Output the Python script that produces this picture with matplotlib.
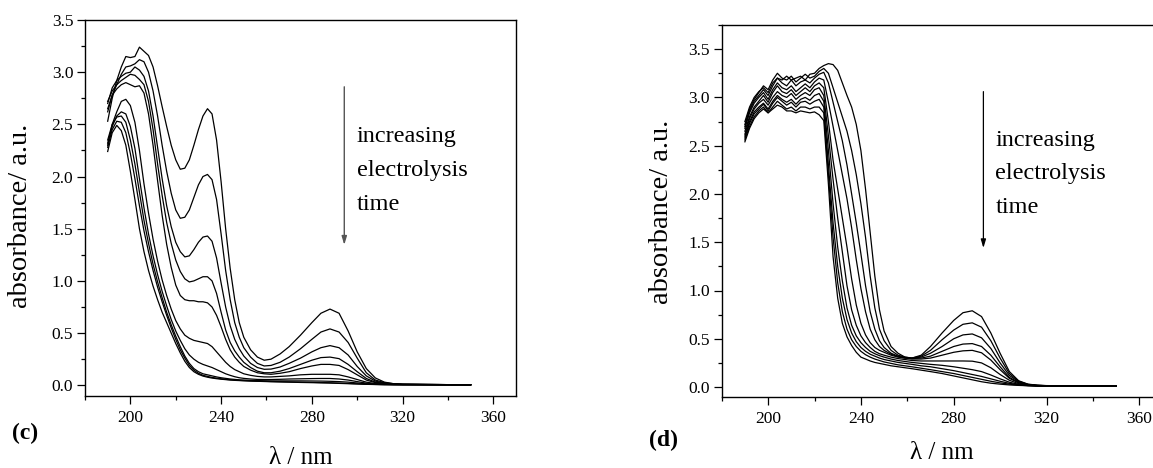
import matplotlib
matplotlib.use("Agg")
from matplotlib import pyplot as plt
from matplotlib.ticker import MultipleLocator

plt.rcParams['font.family'] = ['Liberation Serif', 'DejaVu Serif']

# wavelength grid (nm), shared by all spectra
wl = [190, 192, 194, 196, 198, 200, 202, 204, 206, 208, 210, 212, 214, 216, 218, 220,
      222, 224, 226, 228, 230, 232, 234, 236, 238, 240, 242, 244, 246, 248, 250, 253,
      256, 259, 262, 266, 270, 275, 280, 284, 288, 292, 296, 300, 304, 308, 312, 316,
      320, 330, 340, 350]

# panel (c): absorbance, first to last electrolysis time
spec_c = [
    [2.53, 2.75, 2.92, 3.05, 3.15, 3.14, 3.15, 3.24, 3.2, 3.16, 3.05, 2.87, 2.67, 2.48, 2.3, 2.16,
     2.07, 2.08, 2.16, 2.3, 2.45, 2.58, 2.65, 2.6, 2.35, 1.95, 1.5, 1.12, 0.82, 0.6, 0.46, 0.34,
     0.27, 0.24, 0.25, 0.3, 0.37, 0.48, 0.6, 0.69, 0.73, 0.69, 0.52, 0.32, 0.16, 0.07, 0.03, 0.015,
     0.01, 0.008, 0.006, 0.005],
    [2.62, 2.78, 2.88, 2.98, 3.05, 3.06, 3.08, 3.12, 3.1, 3.0, 2.82, 2.58, 2.3, 2.05, 1.84, 1.68,
     1.6, 1.61, 1.68, 1.8, 1.92, 2.0, 2.02, 1.97, 1.78, 1.45, 1.1, 0.82, 0.6, 0.46, 0.36, 0.27,
     0.21, 0.185, 0.19, 0.22, 0.27, 0.35, 0.44, 0.51, 0.54, 0.51, 0.41, 0.26, 0.12, 0.05, 0.025, 0.015,
     0.01, 0.008, 0.006, 0.005],
    [2.7, 2.85, 2.92, 2.96, 2.99, 3.0, 3.05, 3.02, 2.96, 2.82, 2.58, 2.28, 1.98, 1.72, 1.52, 1.37,
     1.28, 1.23, 1.24, 1.3, 1.37, 1.42, 1.43, 1.38, 1.22, 0.98, 0.75, 0.57, 0.44, 0.35, 0.28, 0.21,
     0.17, 0.153, 0.155, 0.175, 0.21, 0.26, 0.32, 0.36, 0.38, 0.36, 0.29, 0.18, 0.09, 0.04, 0.02, 0.012,
     0.009, 0.007, 0.006, 0.005],
    [2.72, 2.82, 2.88, 2.92, 2.95, 2.98, 2.97, 2.93, 2.88, 2.72, 2.45, 2.12, 1.82, 1.56, 1.36, 1.2,
     1.09, 1.02, 0.99, 1.0, 1.02, 1.04, 1.04, 1.0, 0.88, 0.7, 0.53, 0.41, 0.33, 0.27, 0.22, 0.17,
     0.135, 0.12, 0.12, 0.135, 0.16, 0.2, 0.24, 0.265, 0.27, 0.255, 0.2, 0.13, 0.065, 0.03, 0.017, 0.011,
     0.008, 0.007, 0.006, 0.005],
    [2.65, 2.78, 2.84, 2.88, 2.9, 2.88, 2.86, 2.87, 2.8, 2.6, 2.3, 1.96, 1.63, 1.35, 1.13, 0.96,
     0.86, 0.82, 0.81, 0.81, 0.8, 0.8, 0.79, 0.75, 0.67, 0.56, 0.44, 0.34, 0.27, 0.22, 0.18, 0.145,
     0.12, 0.11, 0.105, 0.115, 0.13, 0.16, 0.185, 0.2, 0.2, 0.19, 0.15, 0.1, 0.05, 0.025, 0.014, 0.01,
     0.008, 0.007, 0.006, 0.005],
    [2.3, 2.5, 2.62, 2.72, 2.74, 2.68, 2.52, 2.25, 1.93, 1.65, 1.4, 1.19, 1.01, 0.86, 0.73, 0.62,
     0.54, 0.48, 0.45, 0.43, 0.42, 0.41, 0.4, 0.37, 0.32, 0.27, 0.22, 0.18, 0.15, 0.13, 0.11, 0.095,
     0.085, 0.08, 0.08, 0.085, 0.09, 0.1, 0.105, 0.105, 0.105, 0.1, 0.08, 0.055, 0.03, 0.016, 0.01, 0.008,
     0.007, 0.006, 0.005, 0.005],
    [2.32, 2.48, 2.58, 2.62, 2.6, 2.48, 2.27, 1.98, 1.7, 1.45, 1.24, 1.06, 0.9, 0.76, 0.63, 0.52,
     0.43, 0.35, 0.29, 0.25, 0.22, 0.2, 0.185, 0.17, 0.15, 0.13, 0.11, 0.095, 0.082, 0.072, 0.066, 0.06,
     0.056, 0.055, 0.055, 0.057, 0.06, 0.062, 0.064, 0.065, 0.065, 0.06, 0.05, 0.035, 0.02, 0.012, 0.009, 0.007,
     0.006, 0.006, 0.005, 0.005],
    [2.35, 2.5, 2.57, 2.58, 2.52, 2.35, 2.12, 1.85, 1.58, 1.36, 1.16, 0.99, 0.84, 0.7, 0.58, 0.47,
     0.37, 0.28, 0.21, 0.16, 0.13, 0.11, 0.1, 0.09, 0.08, 0.072, 0.066, 0.06, 0.056, 0.052, 0.05, 0.047,
     0.045, 0.043, 0.042, 0.042, 0.042, 0.042, 0.041, 0.04, 0.038, 0.035, 0.03, 0.022, 0.014, 0.009, 0.007, 0.006,
     0.006, 0.005, 0.005, 0.005],
    [2.28, 2.45, 2.53, 2.52, 2.42, 2.22, 1.98, 1.72, 1.48, 1.28, 1.1, 0.94, 0.8, 0.67, 0.55, 0.44,
     0.34, 0.26, 0.19, 0.145, 0.115, 0.095, 0.085, 0.075, 0.068, 0.062, 0.057, 0.053, 0.05, 0.047, 0.045, 0.042,
     0.04, 0.038, 0.036, 0.034, 0.032, 0.03, 0.028, 0.026, 0.024, 0.021, 0.018, 0.014, 0.01, 0.008, 0.006, 0.006,
     0.005, 0.005, 0.005, 0.005],
    [2.24, 2.42, 2.49, 2.44, 2.3, 2.05, 1.78, 1.5, 1.28, 1.1, 0.95, 0.82, 0.7, 0.6, 0.5, 0.4,
     0.31, 0.23, 0.17, 0.13, 0.105, 0.088, 0.077, 0.069, 0.063, 0.058, 0.054, 0.05, 0.047, 0.045, 0.043, 0.04,
     0.038, 0.036, 0.034, 0.032, 0.03, 0.027, 0.025, 0.023, 0.021, 0.018, 0.015, 0.012, 0.009, 0.007, 0.006, 0.005,
     0.005, 0.005, 0.005, 0.005],
]

# panel (d)
spec_d = [
    [2.75, 2.9, 3.0, 3.06, 3.1, 3.05, 3.15, 3.2, 3.18, 3.22, 3.18, 3.2, 3.22, 3.18, 3.24, 3.25,
     3.3, 3.33, 3.35, 3.34, 3.28, 3.15, 3.02, 2.9, 2.72, 2.45, 2.05, 1.6, 1.15, 0.8, 0.58, 0.42,
     0.35, 0.31, 0.3, 0.33, 0.42, 0.56, 0.69, 0.77, 0.79, 0.73, 0.56, 0.35, 0.16, 0.065, 0.03, 0.02,
     0.015, 0.012, 0.01, 0.01],
    [2.72, 2.88, 2.98, 3.05, 3.12, 3.08, 3.18, 3.25, 3.2, 3.18, 3.22, 3.16, 3.2, 3.24, 3.2, 3.22,
     3.27, 3.3, 3.25, 3.1, 2.95, 2.8, 2.65, 2.45, 2.2, 1.9, 1.55, 1.15, 0.82, 0.6, 0.48, 0.38,
     0.33, 0.31, 0.3, 0.32, 0.38, 0.49, 0.59, 0.65, 0.665, 0.62, 0.48, 0.3, 0.14, 0.06, 0.028, 0.018,
     0.014, 0.012, 0.01, 0.01],
    [2.7, 2.86, 2.96, 3.02, 3.08, 3.02, 3.12, 3.2, 3.15, 3.12, 3.18, 3.12, 3.16, 3.18, 3.15, 3.2,
     3.24, 3.26, 3.15, 2.95, 2.75, 2.55, 2.3, 2.0, 1.7, 1.38, 1.05, 0.78, 0.6, 0.48, 0.41, 0.35,
     0.32, 0.305, 0.3, 0.31, 0.35, 0.42, 0.5, 0.54, 0.55, 0.51, 0.4, 0.25, 0.12, 0.055, 0.026, 0.017,
     0.013, 0.011, 0.01, 0.01],
    [2.68, 2.84, 2.94, 3.0, 3.05, 2.98, 3.08, 3.15, 3.1, 3.08, 3.12, 3.06, 3.1, 3.14, 3.1, 3.16,
     3.2, 3.18, 2.95, 2.7, 2.45, 2.2, 1.95, 1.65, 1.32, 1.02, 0.78, 0.6, 0.49, 0.42, 0.38, 0.34,
     0.315, 0.3, 0.295, 0.3, 0.32, 0.37, 0.42, 0.445, 0.45, 0.42, 0.33, 0.21, 0.1, 0.048, 0.024, 0.015,
     0.012, 0.011, 0.01, 0.01],
    [2.65, 2.8, 2.9, 2.96, 3.02, 2.95, 3.05, 3.12, 3.06, 3.04, 3.08, 3.02, 3.06, 3.1, 3.06, 3.12,
     3.15, 3.1, 2.75, 2.35, 2.05, 1.75, 1.45, 1.12, 0.85, 0.66, 0.54, 0.46, 0.41, 0.38, 0.36, 0.33,
     0.31, 0.3, 0.29, 0.29, 0.3, 0.33, 0.36, 0.375, 0.38, 0.355, 0.28, 0.18, 0.09, 0.043, 0.022, 0.014,
     0.012, 0.011, 0.01, 0.01],
    [2.62, 2.78, 2.88, 2.94, 2.98, 2.92, 3.0, 3.06, 3.02, 3.0, 3.04, 2.98, 3.02, 3.05, 3.02, 3.08,
     3.1, 3.02, 2.6, 2.15, 1.75, 1.4, 1.05, 0.8, 0.64, 0.53, 0.46, 0.41, 0.37, 0.345, 0.33, 0.31,
     0.295, 0.285, 0.275, 0.27, 0.27, 0.27, 0.27, 0.27, 0.268, 0.25, 0.2, 0.13, 0.07, 0.035, 0.019, 0.013,
     0.011, 0.01, 0.01, 0.01],
    [2.6, 2.75, 2.85, 2.9, 2.94, 2.88, 2.96, 3.02, 2.98, 2.95, 2.98, 2.93, 2.98, 3.0, 2.97, 3.02,
     3.04, 2.96, 2.45, 1.9, 1.45, 1.1, 0.82, 0.64, 0.53, 0.46, 0.41, 0.37, 0.345, 0.325, 0.31, 0.29,
     0.275, 0.265, 0.255, 0.245, 0.235, 0.225, 0.21, 0.195, 0.18, 0.16, 0.125, 0.085, 0.05, 0.028, 0.017, 0.012,
     0.011, 0.01, 0.01, 0.01],
    [2.58, 2.73, 2.83, 2.88, 2.93, 2.86, 2.94, 3.0, 2.96, 2.92, 2.95, 2.9, 2.95, 2.96, 2.93, 2.96,
     2.98, 2.9, 2.3, 1.7, 1.25, 0.92, 0.7, 0.56, 0.47, 0.41, 0.37, 0.34, 0.32, 0.3, 0.285, 0.27,
     0.255, 0.245, 0.235, 0.22, 0.21, 0.19, 0.17, 0.15, 0.13, 0.11, 0.085, 0.06, 0.038, 0.024, 0.016, 0.012,
     0.011, 0.01, 0.01, 0.01],
    [2.56, 2.7, 2.8, 2.86, 2.9, 2.84, 2.9, 2.96, 2.92, 2.88, 2.9, 2.86, 2.9, 2.9, 2.88, 2.9,
     2.9, 2.84, 2.2, 1.55, 1.08, 0.78, 0.6, 0.49, 0.42, 0.37, 0.335, 0.31, 0.29, 0.275, 0.26, 0.245,
     0.23, 0.22, 0.21, 0.195, 0.18, 0.16, 0.14, 0.12, 0.1, 0.08, 0.06, 0.043, 0.03, 0.02, 0.014, 0.012,
     0.011, 0.01, 0.01, 0.01],
    [2.54, 2.68, 2.78, 2.84, 2.88, 2.84, 2.88, 2.92, 2.9, 2.86, 2.86, 2.84, 2.86, 2.85, 2.84, 2.85,
     2.82, 2.76, 2.1, 1.35, 0.92, 0.66, 0.52, 0.43, 0.36, 0.31, 0.29, 0.27, 0.255, 0.245, 0.235, 0.22,
     0.21, 0.2, 0.19, 0.175, 0.16, 0.14, 0.115, 0.095, 0.075, 0.055, 0.04, 0.03, 0.022, 0.017, 0.014, 0.012,
     0.011, 0.01, 0.01, 0.01],
]

W, H = 1153, 468
fig = plt.figure(figsize=(W / 100, H / 100), dpi=100)
ax1 = fig.add_axes([85 / W, 1 - 395.7 / H, 431 / W, 375.7 / H])
ax2 = fig.add_axes([721.7 / W, 1 - 396.7 / H, 440.8 / W, 371.7 / H])


def style(ax, ytop):
    for s in ax.spines.values():
        s.set_linewidth(1.0)
    ax.set_xlim(180, 370)
    ax.set_ylim(-0.1, ytop)
    ax.xaxis.set_major_locator(MultipleLocator(40))
    ax.xaxis.set_minor_locator(MultipleLocator(20))
    ax.yaxis.set_major_locator(MultipleLocator(0.5))
    ax.yaxis.set_minor_locator(MultipleLocator(0.25))
    ax.yaxis.set_major_formatter(plt.FuncFormatter(lambda v, p: '%.1f' % v))
    ax.tick_params(which='both', direction='out', top=False, right=False, width=0.9)
    ax.tick_params(which='major', length=5.5, labelsize=12.5)
    ax.tick_params(which='minor', length=3)
    ax.tick_params(axis='x', pad=5)
    ax.tick_params(axis='y', pad=3)


for s in spec_c:
    ax1.plot(wl, s, color='black', lw=0.9)
for s in spec_d:
    ax2.plot(wl, s, color='black', lw=0.9)

style(ax1, 3.5)
style(ax2, 3.75)

lbl = "increasing\nelectrolysis\ntime"
ax1.annotate('', xy=(294.3, 1.345), xytext=(294.3, 2.86),
             arrowprops=dict(arrowstyle='-|>,head_length=0.5,head_width=0.15',
                             color='#555555', lw=1.0, shrinkA=0, shrinkB=0))
ax1.text(299.9, 1.68, lbl, fontsize=17.5, va='baseline', ha='left', linespacing=1.8)
ax2.annotate('', xy=(292.8, 1.44), xytext=(292.8, 3.06),
             arrowprops=dict(arrowstyle='-|>,head_length=0.5,head_width=0.15',
                             color='black', lw=0.9, shrinkA=0, shrinkB=0))
ax2.text(297.9, 1.80, lbl, fontsize=17.5, va='baseline', ha='left', linespacing=1.8)

fig.text(21 / W, 1 - 216 / H, 'absorbance/ a.u.', rotation=90, fontsize=20.5,
         ha='center', va='center')
fig.text(662 / W, 1 - 212 / H, 'absorbance/ a.u.', rotation=90, fontsize=20.5,
         ha='center', va='center')
fig.text(300.5 / W, 1 - 458 / H, 'λ / nm', fontsize=18, ha='center', va='center')
fig.text(942 / W, 1 - 453 / H, 'λ / nm', fontsize=18, ha='center', va='center')
fig.text(25 / W, 1 - 433 / H, '(c)', fontsize=17, fontweight='bold', ha='center', va='center')
fig.text(664 / W, 1 - 440 / H, '(d)', fontsize=17, fontweight='bold', ha='center', va='center')

fig.savefig('out.png', dpi=100)
